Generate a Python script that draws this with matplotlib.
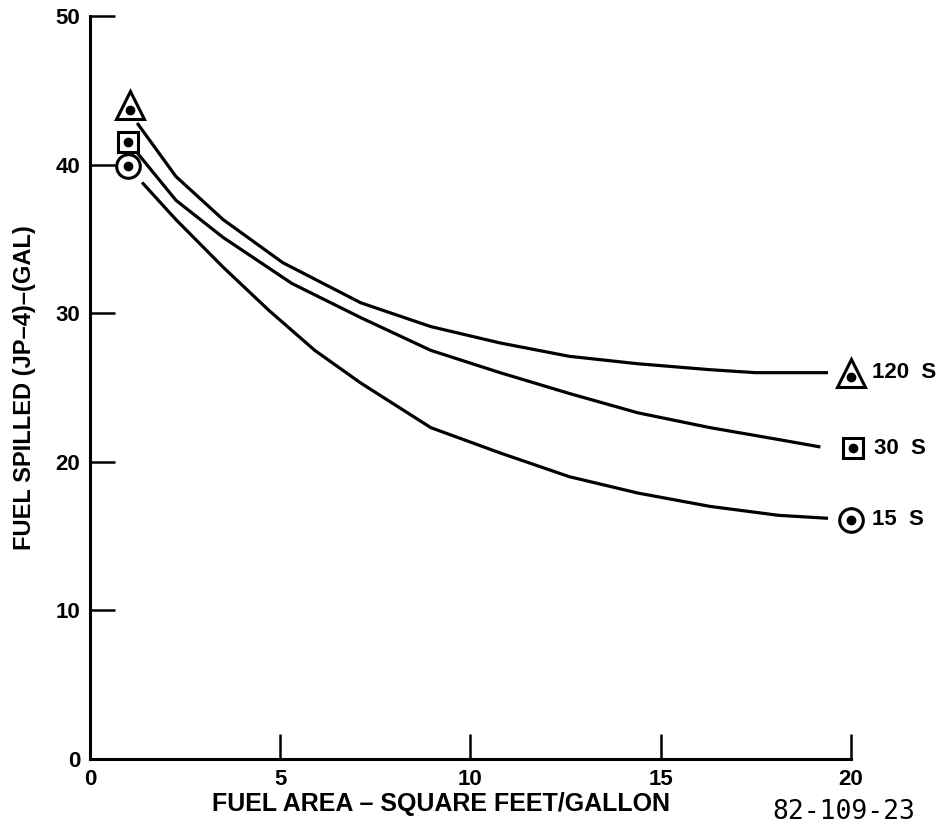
import numpy as np
import matplotlib.pyplot as plt

plt.rcParams['font.family'] = ['Liberation Sans', 'DejaVu Sans']

# curve readings, x in square feet/gallon, y in gallons
x_120 = [1.24, 2.26, 3.50, 5.07, 7.12, 8.96, 10.78, 12.6, 14.4, 16.3, 17.5, 19.4]
y_120 = [42.8, 39.2, 36.3, 33.4, 30.7, 29.1, 28.0, 27.1, 26.6, 26.2, 26.0, 26.0]

x_30 = [1.24, 2.26, 3.50, 5.31, 7.12, 8.96, 10.78, 12.6, 14.4, 16.3, 18.1, 19.2]
y_30 = [40.8, 37.6, 35.1, 32.0, 29.7, 27.5, 26.0, 24.6, 23.3, 22.3, 21.5, 21.0]

x_15 = [1.37, 2.26, 3.50, 4.70, 5.91, 7.12, 8.96, 10.78, 12.6, 14.4, 16.3, 18.1, 19.4]
y_15 = [38.8, 36.3, 33.1, 30.2, 27.5, 25.3, 22.3, 20.6, 19.0, 17.9, 17.0, 16.4, 16.2]

# end symbols (left and right ends of each curve)
labels = ['120  S', '30  S', '15  S']
markers = ['^', 's', 'o']
left_x = [1.05, 1.0, 1.0]
left_y = [44.0, 41.5, 39.9]
right_x = [20.0, 20.05, 20.0]
right_y = [26.0, 20.9, 16.1]
marker_sizes = [20, 15, 17]

fig = plt.figure(figsize=(9.44, 8.3), dpi=100)
ax = fig.add_axes([0.0953, 0.0855, 0.806, 0.8952])

for xs, ys in [(x_120, y_120), (x_30, y_30), (x_15, y_15)]:
    ax.plot(xs, ys, color='black', lw=2.3, solid_capstyle='butt',
            solid_joinstyle='round')

for i in range(3):
    for mx, my in [(left_x[i], left_y[i]), (right_x[i], right_y[i])]:
        ax.plot(mx, my, marker=markers[i], ms=marker_sizes[i], mfc='white',
                mec='black', mew=2.2, ls='none', clip_on=False, zorder=5)
        ax.plot(mx, my - (0.3 if markers[i] == '^' else 0), marker='o', ms=6,
                color='black', ls='none', clip_on=False, zorder=6)
    ax.text(right_x[i] + 0.55, right_y[i], labels[i], fontsize=16,
            fontweight='bold', va='center', ha='left')

ax.set_xlim(0, 20)
ax.set_ylim(0, 50)
ax.set_xticks([0, 5, 10, 15, 20])
ax.set_yticks([0, 10, 20, 30, 40, 50])

for side in ['top', 'right']:
    ax.spines[side].set_visible(False)
for side in ['left', 'bottom']:
    ax.spines[side].set_linewidth(2.2)

ax.tick_params(axis='both', direction='in', length=18, width=1.8,
               labelsize=16, pad=7)
for lab in ax.get_xticklabels() + ax.get_yticklabels():
    lab.set_fontweight('bold')

ax.set_ylabel('FUEL SPILLED (JP–4)–(GAL)', fontsize=17, fontweight='bold',
              labelpad=14)
fig.text(0.225, 0.031, 'FUEL AREA – SQUARE FEET/GALLON', fontsize=18,
         fontweight='bold', ha='left', va='center')
fig.text(0.818, 0.022, '82-109-23', fontsize=19, family='DejaVu Sans Mono',
         ha='left', va='center')

fig.savefig('out.png', dpi=100)
